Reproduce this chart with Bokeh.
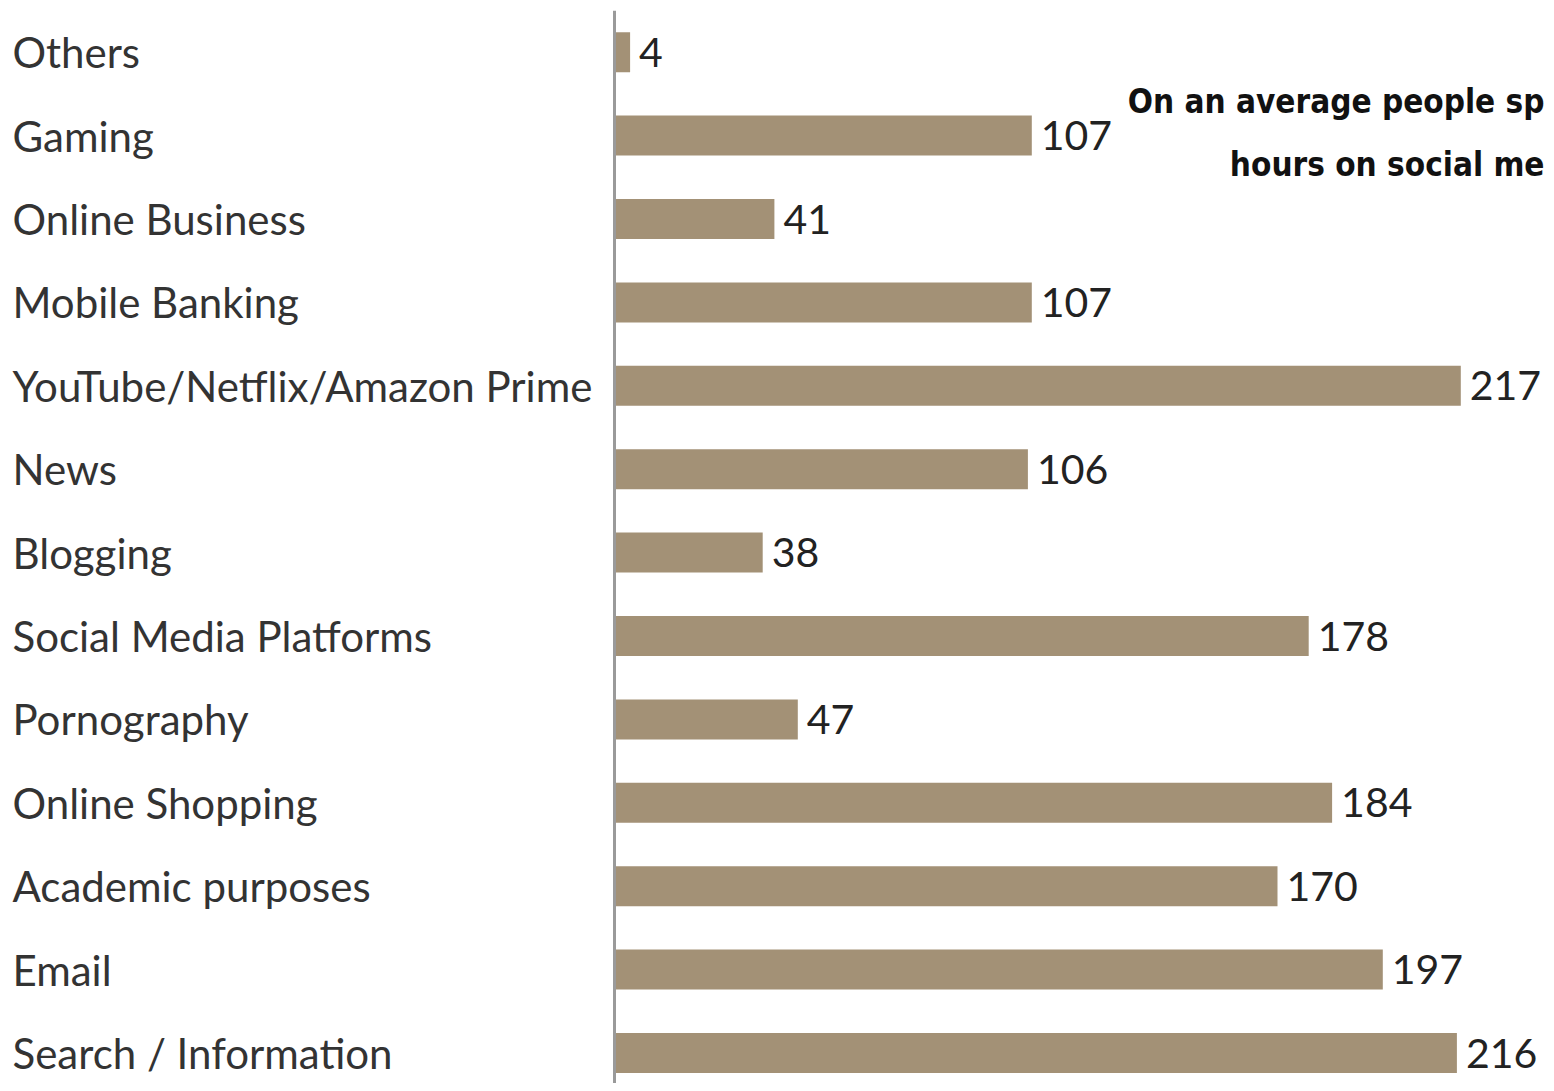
from bokeh.plotting import figure
from bokeh.models import ColumnDataSource, Span, Range1d
from bokeh.core.properties import value
from bokeh.embed import file_html
from bokeh.resources import INLINE

categories = ["Others", "Gaming", "Online Business", "Mobile Banking",
              "YouTube/Netflix/Amazon Prime", "News", "Blogging",
              "Social Media Platforms", "Pornography", "Online Shopping",
              "Academic purposes", "Email", "Search / Information"]
counts = [4, 107, 41, 107, 217, 106, 38, 178, 47, 184, 170, 197, 216]
note_lines = ["On an average people sp", "hours on social me"]

W, H = 1546, 1083
TOP = 10                 # pixel top of the plotting frame
pitch = 83.4             # pixels per category row
axis_px = 614.0          # pixel position of zero
scale = 3.90             # pixels per unit
x_start = -axis_px / scale
x_end = (W - axis_px) / scale
y_top = -0.5
y_bottom = y_top + (H - TOP) / pitch

def px_to_row(py):
    return (py - TOP) / pitch - 0.5

rows = list(range(len(categories)))
src = ColumnDataSource(dict(row=rows, cat=categories, n=counts,
                            lbl=[str(v) for v in counts],
                            lx=[(12 - axis_px) / scale] * len(categories)))

p = figure(width=W, height=H, output_backend="svg", toolbar_location=None,
           y_range=Range1d(start=y_bottom, end=y_top),
           x_range=Range1d(start=x_start, end=x_end),
           min_border_left=0, min_border_right=0, min_border_top=TOP,
           min_border_bottom=0)
p.axis.visible = False
p.grid.visible = False
p.outline_line_color = None
p.background_fill_color = "white"

p.hbar(y="row", right="n", left=0, height=0.48, source=src,
       fill_color="#a39176", line_color=None)

p.add_layout(Span(location=0, dimension="height", line_color="#9a9a9a",
                  line_width=3))

p.text(x="n", y="row", text="lbl", source=src, x_offset=9,
       text_font=value("Lato"), text_font_size="41px", text_color="#222222",
       text_baseline="middle", text_align="left")

p.text(x="lx", y="row", text="cat", source=src,
       text_font=value("Lato"), text_font_size="42px", text_color="#333333",
       text_baseline="middle", text_align="left")

note_src = ColumnDataSource(dict(x=[x_end, x_end],
                                 y=[px_to_row(101), px_to_row(164)],
                                 t=note_lines))
p.text(x="x", y="y", text="t", source=note_src, x_offset=-2,
       text_font=value("DejaVu Sans Condensed"), text_font_style="bold",
       text_font_size="33px", text_color="#111111",
       text_baseline="middle", text_align="right")

open("out.html", "w").write(file_html(p, INLINE))
